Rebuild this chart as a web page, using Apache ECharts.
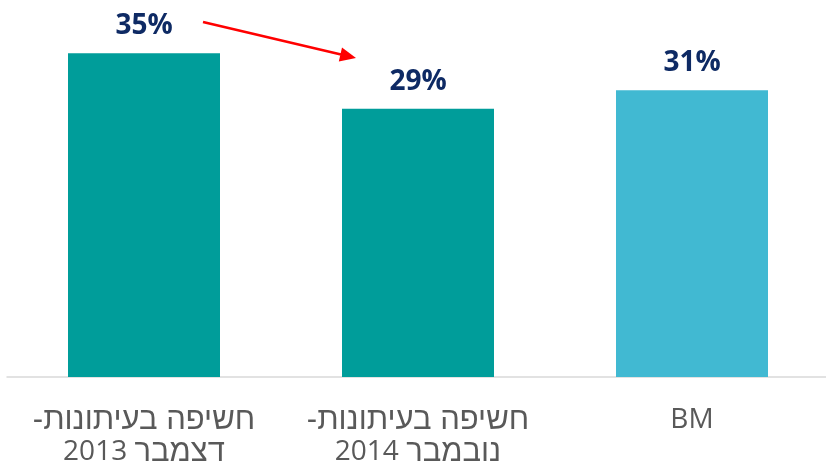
<!DOCTYPE html>
<html>
<head>
<meta charset="utf-8">
<script src="https://cdn.jsdelivr.net/npm/echarts@6/dist/echarts.min.js"></script>
<style>
  html, body { margin: 0; padding: 0; background: #ffffff; }
  #chart { width: 826px; height: 469px; }
</style>
</head>
<body>
<div id="chart"></div>
<script>
// Exposure shares by source
const categories = [
  'חשיפה בעיתונות-\u200F\nדצמבר 2013',
  'חשיפה בעיתונות-\u200F\nנובמבר 2014',
  'BM'
];
const values = [35, 29, 31];
const valueLabels = ['35%', '29%', '31%'];

const barColors = ['#009D9A', '#009D9A', '#41B9D2'];

// Hebrew words get their own (slightly larger) style; a "month year" line is
// laid out visually right-to-left: year on the left, month on the right.
function categoryLabel(value) {
  return value.split('\n').map(function (line) {
    const m = line.match(/^(\S+) (\d+)$/);
    if (m) return '{num|' + m[2] + '} {he|' + m[1] + '}';
    if (/[\u0590-\u05FF]/.test(line)) return '{he|' + line + '}';
    return '{num|' + line + '}';
  }).join('\n');
}

const chart = echarts.init(document.getElementById('chart'), null, { renderer: 'canvas' });

chart.setOption({
  animation: false,
  backgroundColor: '#ffffff',
  grid: { left: 7, right: -3, top: 7, bottom: 92, containLabel: false, outerBoundsMode: 'none' },
  xAxis: {
    type: 'category',
    data: categories,
    axisLine: { show: true, lineStyle: { color: '#D9D9D9', width: 1.5 } },
    axisTick: { show: false },
    axisLabel: {
      interval: 0,
      margin: 27,
      color: '#595959',
      fontFamily: '"Open Sans", sans-serif',
      fontSize: 28,
      lineHeight: 32,
      align: 'center',
      formatter: categoryLabel,
      rich: {
        he: {
          color: '#595959',
          fontFamily: '"Liberation Sans", "DejaVu Sans", sans-serif',
          fontSize: 31,
          lineHeight: 32
        },
        num: {
          color: '#595959',
          fontFamily: '"Open Sans", sans-serif',
          fontSize: 28,
          lineHeight: 32
        }
      }
    }
  },
  yAxis: {
    type: 'value',
    min: 0,
    max: 40,
    show: false,
    splitLine: { show: false }
  },
  series: [{
    type: 'bar',
    barWidth: 152,
    data: values.map((v, i) => ({
      value: v,
      itemStyle: { color: barColors[i] },
      label: { formatter: valueLabels[i] }
    })),
    label: {
      show: true,
      position: 'top',
      distance: 13,
      color: '#0E2A64',
      fontFamily: '"Open Sans", sans-serif',
      fontWeight: 'bold',
      fontSize: 28
    }
  }],
  graphic: [
    {
      type: 'line',
      shape: { x1: 203, y1: 22, x2: 341, y2: 54.5 },
      style: { stroke: '#FF0000', lineWidth: 2.5 }
    },
    {
      type: 'polygon',
      shape: { points: [[356, 58], [338.8, 61.4], [342.0, 47.6]] },
      style: { fill: '#FF0000' }
    }
  ]
});
</script>
</body>
</html>
